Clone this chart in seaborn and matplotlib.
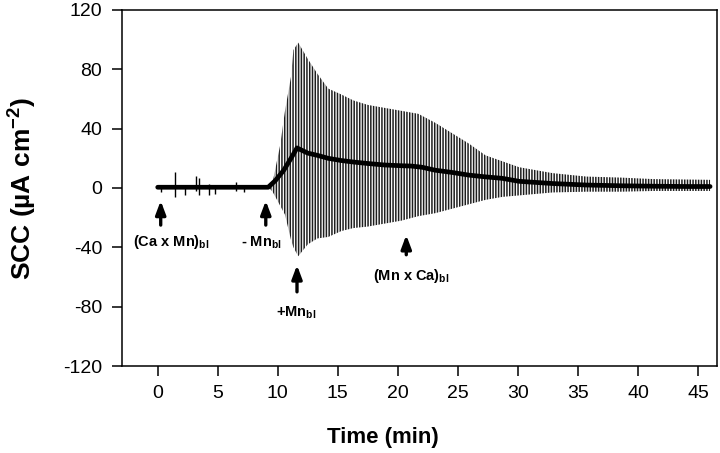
import matplotlib
matplotlib.use('Agg')
import matplotlib.pyplot as plt
import seaborn as sns

sns.set_style('ticks')
plt.rcParams['font.family'] = ['Liberation Sans', 'DejaVu Sans']
plt.rcParams['mathtext.fontset'] = 'custom'
plt.rcParams['mathtext.rm'] = 'Liberation Sans'
plt.rcParams['mathtext.bf'] = 'Liberation Sans:bold'
plt.rcParams['hatch.linewidth'] = 1.1
plt.rcParams['axes.unicode_minus'] = False
plt.rcParams['text.color'] = 'black'
plt.rcParams['axes.labelcolor'] = 'black'

# mean SCC trace (thick line)
mean_time = [0, 9.2, 9.8, 10.5, 11.1, 11.6, 12.5, 13.3, 14.2, 15.3, 16.3, 17.5, 18.9, 20.3,
             21.1, 22.0, 23.1, 24.5, 25.9, 27.3, 28.7, 30.1, 32.9, 35.7, 38.6, 41.3, 44.2, 46.0]
mean_scc = [0.5, 0.5, 5, 12, 20, 27, 23.5, 22, 20, 18.5, 17.5, 16.5, 15.5, 15,
            14.8, 14, 12, 10.5, 8.7, 7.5, 6.5, 4.5, 3, 2, 1.5, 1.2, 1, 1]

# envelope of the oscillating deflections
osc_time = [9.3, 9.6, 10.2, 10.6, 11.1, 11.3, 11.7, 12.5, 13.3, 14.2, 15.3, 16.3, 17.5, 18.9,
            20.3, 21.7, 23.1, 24.5, 25.9, 27.3, 28.7, 30.1, 32.9, 35.7, 38.6, 41.3, 44.2, 46.0]
osc_upper = [1, 5, 29, 52, 75, 93, 98, 87, 77, 67, 63, 59, 56, 54,
             52, 50, 44, 37, 30, 22, 18, 14, 10, 7.7, 7, 6, 5.7, 5.5]
osc_lower = [0, -3, -12, -18, -35, -40, -46, -38, -34, -33, -29, -27, -26, -24,
             -22, -19, -17, -14, -11, -8, -6, -5, -3, -2.5, -2.5, -2, -2, -2]

# small spikes on the baseline
spike_time = [0.3, 1.45, 2.3, 3.2, 3.4, 4.3, 4.8, 6.5, 7.2]
spike_hi = [1, 11, 2, 8, 7, 3, 2, 4, 2]
spike_lo = [-3, -6, -5, -2, -5, -5, -4, -2, -3]

# arrows: x position, tip, tail, label, label x, label baseline y
arrow_x = [0.25, 9.0, 11.6, 20.7]
arrow_tip = [-8.6, -8.6, -52, -31.7]
arrow_tail = [-25, -25, -70, -45]
arrow_labels = ['(Ca x Mn)$_{\\mathbf{bl}}$', '- Mn$_{\\mathbf{bl}}$',
                '+Mn$_{\\mathbf{bl}}$', '(Mn x Ca)$_{\\mathbf{bl}}$']
label_x = [1.1, 8.6, 11.5, 21.1]
label_y = [-39.4, -39.4, -86.3, -62]

fig, ax = plt.subplots(figsize=(7.2, 4.53), dpi=100)
fig.subplots_adjust(left=0.169, right=0.9954, top=0.978, bottom=0.192)

ax.fill_between(osc_time, osc_lower, osc_upper, facecolor='none',
                edgecolor='#1e1e1e', hatch='||||||', linewidth=0)
ax.vlines(spike_time, spike_lo, spike_hi, color='black', linewidth=1)
sns.lineplot(x=mean_time, y=mean_scc, color='black', linewidth=3.4, ax=ax)

for x, tip, tail in zip(arrow_x, arrow_tip, arrow_tail):
    ax.annotate('', xy=(x, tip), xytext=(x, tail),
                arrowprops=dict(arrowstyle='-|>,head_length=0.8,head_width=0.3',
                                color='black', lw=2.4, shrinkA=0, shrinkB=0))
for lab, x, y in zip(arrow_labels, label_x, label_y):
    ax.text(x, y, lab, ha='center', va='baseline', fontsize=10.5, fontweight='bold')

ax.set_xlim(-3.0, 46.55)
ax.set_ylim(-120, 120)
ax.set_xticks(range(0, 46, 5))
ax.set_yticks(range(-120, 121, 40))
ax.tick_params(direction='out', length=7, width=1.1, labelsize=14, pad=7, colors='black')
for sp in ax.spines.values():
    sp.set_visible(True)
    sp.set_linewidth(1.1)
    sp.set_color('black')

ax.set_xlabel('Time (min)', fontsize=16, fontweight='bold')
ax.xaxis.set_label_coords(0.439, -0.17)
ax.set_ylabel('SCC (µA cm$^{\\mathbf{-2}}$)', fontsize=19, fontweight='bold', va='center')
ax.yaxis.set_label_coords(-0.168, 0.5)

fig.savefig('out.png', dpi=100)
